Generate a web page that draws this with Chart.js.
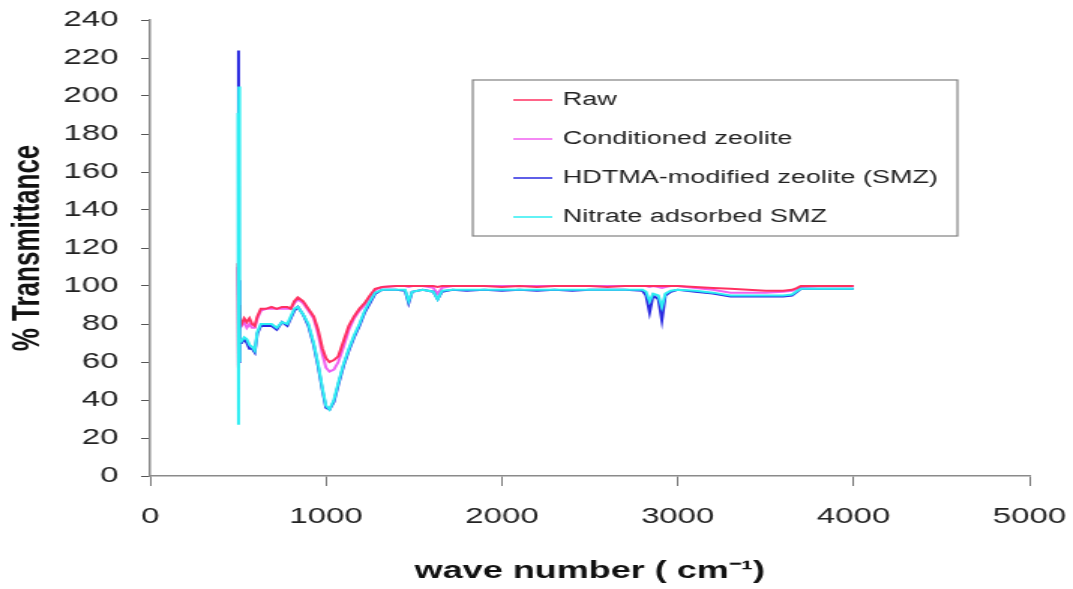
<!DOCTYPE html>
<html>
<head>
<meta charset="utf-8">
<script src="https://cdn.jsdelivr.net/npm/chart.js@4.4.1/dist/chart.umd.min.js"></script>
<style>
  html, body { margin: 0; padding: 0; background: #fff; overflow: hidden; }
  /* the original figure is stretched sideways, so draw narrow and stretch */
  #wrap { position: absolute; left: 0; top: 0; width: 715px; height: 589px; transform: scaleX(1.5007); transform-origin: 0 0; }
</style>
</head>
<body>
<div id="wrap"><canvas id="chart"></canvas></div>
<script>
const waveNumbers = [500, 503, 505, 507, 510,
  520, 535, 550, 565, 580, 595, 610, 630, 660, 690, 720, 750, 780, 800, 820, 840, 870, 900, 930, 955, 980,
  1000, 1020, 1045, 1070, 1100, 1130, 1160, 1190, 1220, 1250, 1280, 1320,
  1400, 1450, 1470, 1490, 1550, 1610, 1635, 1660, 1720, 1800, 1900, 2000, 2100, 2200, 2300, 2400, 2500, 2600, 2700,
  2800, 2820, 2840, 2860, 2890, 2910, 2930, 2960, 3000, 3100, 3200, 3300, 3400, 3500, 3600, 3650, 3680, 3700, 3800, 3900, 4000];

const raw = [112, 57, 90, 78, 82,
  80, 83, 81, 83, 80, 79, 84, 88, 88, 89, 88, 89, 89, 88, 92, 94, 92, 88, 84, 77, 67,
  62, 60, 61, 63, 71, 79, 84, 88, 91, 95, 98.5, 99.5,
  100, 100, 100, 100, 100, 100, 99.5, 100, 100, 100, 100, 99.5, 100, 99.5, 100, 100, 100, 99.5, 100,
  100, 100, 100, 100, 100, 100, 100, 100, 100, 99.5, 99, 98.5, 98, 97.5, 97.5, 98, 99, 100, 100, 100, 100];

const conditioned = [110, 58, 86, 80, 84,
  79, 81, 78, 80, 78, 78, 83, 87, 88, 88, 88, 88, 88, 88, 91, 93, 91, 87, 83, 75, 64,
  57, 55, 56, 60, 68, 77, 83, 87, 90, 94, 98, 99.5,
  100, 100, 99.5, 100, 100, 99, 96, 99, 100, 100, 100, 100, 100, 100, 100, 100, 100, 100, 100,
  100, 100, 99.5, 100, 99.5, 99, 99.5, 100, 100, 99, 98, 96.5, 96.5, 96.5, 97, 97.5, 98.5, 99.5, 100, 100, 100];

const smz = [95, 224, 60, 103, 70,
  70, 72, 70, 67, 67, 65, 75, 79, 79, 79, 77, 81, 79, 83, 87, 89, 85, 79, 69, 58, 45,
  36, 35, 39, 48, 58, 66, 73, 79, 86, 91, 96, 98,
  98, 97.5, 91, 97, 98, 97, 93, 97, 98, 97.5, 98, 97.5, 98, 97.5, 98, 97.5, 98, 98, 98,
  97.5, 95, 86, 95, 93, 82, 95, 97, 98, 97, 96, 94.5, 94.5, 94.5, 94.5, 95, 97, 98.5, 98.5, 98.5, 98.5];

const nitrateSmz = [191, 27, 205, 60, 72,
  71, 73, 72, 69, 68, 66, 76, 80, 80, 80, 78, 81, 80, 84, 88, 89, 85, 80, 70, 59, 46,
  37, 35, 40, 49, 59, 67, 74, 80, 87, 92, 96.5, 98,
  98, 98, 92, 97, 98, 97, 93, 97.5, 98, 98, 98, 98, 98, 98, 98, 98, 98, 98, 98,
  98, 97, 92, 96, 95, 89, 96, 97.5, 98, 97.5, 96.5, 95, 95, 95, 95, 95.5, 97.5, 98.5, 98.5, 98.5, 98.5];

const seriesNames = ['Raw', 'Conditioned zeolite', 'HDTMA-modified zeolite (SMZ)', 'Nitrate adsorbed SMZ'];
const xTickValues = [0, 1000, 2000, 3000, 4000, 5000];
const yTickValues = [0, 20, 40, 60, 80, 100, 120, 140, 160, 180, 200, 220, 240];

const colors = ['#ff3060', '#f060f0', '#2a2ae0', '#2eeef2'];
const seriesValues = [raw, conditioned, smz, nitrateSmz];
const drawOrder = [3, 4, 2, 1];
const font = '"Liberation Sans", Arial, sans-serif';

const boxLegend = {
  id: 'boxLegend',
  afterDraw(chart) {
    const ctx = chart.ctx;
    ctx.save();
    ctx.fillStyle = '#fff';
    ctx.fillRect(315, 80, 323, 156);
    ctx.strokeStyle = '#808080';
    ctx.lineWidth = 1.2;
    ctx.strokeRect(315, 80, 323, 156);
    ctx.font = '18px ' + font;
    ctx.textBaseline = 'middle';
    chart.data.datasets.forEach((ds, i) => {
      const y = 100 + i * 39;
      ctx.strokeStyle = ds.borderColor;
      ctx.lineWidth = 1.5;
      ctx.beginPath();
      ctx.moveTo(342, y);
      ctx.lineTo(368, y);
      ctx.stroke();
      ctx.fillStyle = '#222';
      ctx.fillText(ds.label, 375, y);
    });
    ctx.restore();
  }
};

new Chart(document.getElementById('chart'), {
  type: 'line',
  data: {
    datasets: seriesNames.map((name, i) => ({
      label: name,
      data: waveNumbers.map((w, j) => ({ x: w, y: seriesValues[i][j] })),
      borderColor: colors[i],
      backgroundColor: colors[i],
      borderWidth: 2,
      pointRadius: 0,
      tension: 0,
      order: drawOrder[i]
    }))
  },
  options: {
    responsive: true,
    maintainAspectRatio: false,
    animation: false,
    layout: { padding: { top: 20, right: 29, left: 0, bottom: 0 } },
    plugins: { legend: { display: false }, tooltip: { enabled: false } },
    scales: {
      x: {
        type: 'linear',
        min: 0,
        max: 5000,
        afterFit: s => { s.height = 113; s.paddingLeft = 0; s.paddingRight = 0; },
        afterBuildTicks: s => { s.ticks = xTickValues.map(v => ({ value: v })); },
        border: { color: '#8a8a8a', width: 1.5 },
        grid: { drawOnChartArea: false, tickLength: 10, tickColor: '#777' },
        ticks: { color: '#222', font: { family: font, size: 22 }, padding: 18, maxRotation: 0, callback: v => String(v) },
        title: {
          display: true,
          text: 'wave number ( cm\u207B\u00B9)',
          color: '#111',
          font: { family: font, size: 24, weight: 'bold' },
          padding: { top: 0, bottom: 3 }
        }
      },
      y: {
        min: 0,
        max: 240,
        afterFit: s => { s.width = 100; s.paddingTop = 0; s.paddingBottom = 0; },
        afterBuildTicks: s => { s.ticks = yTickValues.map(v => ({ value: v })); },
        border: { color: '#8a8a8a', width: 1.5 },
        grid: { drawOnChartArea: false, tickLength: 6, tickColor: '#555' },
        ticks: { color: '#222', font: { family: font, size: 22 }, padding: 15 },
        title: {
          display: true,
          text: '% Transmittance',
          color: '#111',
          font: { family: font, size: 26, weight: 'bold' },
          padding: { top: 3, bottom: 0 }
        }
      }
    }
  },
  plugins: [boxLegend]
});
</script>
</body>
</html>
